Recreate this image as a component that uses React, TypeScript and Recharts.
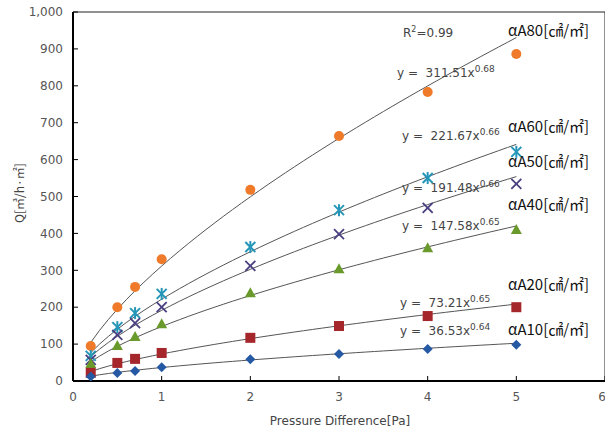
import { ComposedChart, Scatter, XAxis, YAxis, ReferenceArea } from "recharts";

// measured points (x = pressure difference, y = Q)
const pressure = [0.2, 0.5, 0.7, 1, 2, 3, 4, 5];
const qA80 = [95, 200, 255, 330, 518, 664, 783, 886];
const qA60 = [68, 146, 184, 236, 363, 463, 550, 621];
const qA50 = [57, 125, 157, 200, 312, 398, 469, 534];
const qA40 = [46, 95, 119, 154, 238, 303, 360, 409];
const qA20 = [22, 49, 60, 76, 117, 149, 176, 200];
const qA10 = [12, 22, 27, 37, 59, 73, 87, 98];

// power trendlines y = a * x^b, as printed on the chart
const fitCoef = [311.51, 221.67, 191.48, 147.58, 73.21, 36.53];
const fitExp = [0.68, 0.66, 0.66, 0.65, 0.65, 0.64];
const seriesNames = ["αA80", "αA60", "αA50", "αA40", "αA20", "αA10"];

const xTicks = [0, 1, 2, 3, 4, 5, 6];
const yTicks = [0, 100, 200, 300, 400, 500, 600, 700, 800, 900, 1000];

const toPoints = (ys: number[]) => pressure.map((x, i) => ({ x, y: ys[i] }));

const fitX: number[] = [];
for (let i = 0; i <= 48; i++) fitX.push(0.2 + i * 0.1);
const fitLine = (k: number) => fitX.map((x) => ({ x, y: fitCoef[k] * Math.pow(x, fitExp[k]) }));

const Circle = (p: any) => <circle cx={p.cx} cy={p.cy} r={5} fill="#EE7A2A" />;
const Asterisk = (p: any) => (
  <g stroke="#2596B8" strokeWidth={2}>
    <line x1={p.cx - 5} y1={p.cy - 5} x2={p.cx + 5} y2={p.cy + 5} />
    <line x1={p.cx - 5} y1={p.cy + 5} x2={p.cx + 5} y2={p.cy - 5} />
    <line x1={p.cx} y1={p.cy - 6} x2={p.cx} y2={p.cy + 6} />
  </g>
);
const Cross = (p: any) => (
  <g stroke="#4A3F80" strokeWidth={1.8}>
    <line x1={p.cx - 5} y1={p.cy - 5} x2={p.cx + 5} y2={p.cy + 5} />
    <line x1={p.cx - 5} y1={p.cy + 5} x2={p.cx + 5} y2={p.cy - 5} />
  </g>
);
const Triangle = (p: any) => (
  <polygon points={`${p.cx},${p.cy - 6} ${p.cx + 5.5},${p.cy + 4} ${p.cx - 5.5},${p.cy + 4}`} fill="#6A9A2C" />
);
const Square = (p: any) => <rect x={p.cx - 5} y={p.cy - 5} width={10} height={10} fill="#A5262B" />;
const Diamond = (p: any) => (
  <polygon points={`${p.cx},${p.cy - 5} ${p.cx + 5},${p.cy} ${p.cx},${p.cy + 5} ${p.cx - 5},${p.cy}`} fill="#2559A3" />
);
const shapes = [Circle, Asterisk, Cross, Triangle, Square, Diamond];
const values = [qA80, qA60, qA50, qA40, qA20, qA10];

const labelTop = [29, 125, 160, 203, 283, 328];
const eqTop = [72, 135, 187, 225, 302, 330];
const eqLeft = [397, 402, 402, 402, 400, 400];

const font = "'DejaVu Sans', sans-serif";

export default function App() {
  return (
    <div style={{ position: "absolute", left: 0, top: 0, width: 605, height: 431, background: "#fff" }}>
      <ComposedChart width={605} height={431} margin={{ top: 12, right: 0, bottom: 0, left: 0 }}>
        <XAxis
          type="number"
          dataKey="x"
          domain={[0, 6]}
          ticks={xTicks}
          height={50}
          tickSize={-5}
          tickMargin={16}
          axisLine={{ stroke: "#000", strokeWidth: 2 }}
          tickLine={{ stroke: "#000" }}
          tick={{ fill: "#555", fontSize: 12, fontFamily: font }}
          allowDataOverflow
        />
        <YAxis
          type="number"
          dataKey="y"
          domain={[0, 1000]}
          ticks={yTicks}
          width={73}
          tickSize={-5}
          tickMargin={15}
          axisLine={{ stroke: "#000", strokeWidth: 2 }}
          tickLine={{ stroke: "#000" }}
          tick={{ fill: "#555", fontSize: 12, fontFamily: font }}
          tickFormatter={(v: number) => v.toLocaleString("en-US")}
          allowDataOverflow
        />
        <ReferenceArea x1={0} x2={6} y1={0} y2={1000} fill="none" stroke="#222" strokeWidth={1} />
        {values.map((_, k) => (
          <Scatter
            key={"fit" + k}
            data={fitLine(k)}
            line={{ stroke: "#555", strokeWidth: 1 }}
            lineType="joint"
            shape={() => <g />}
            isAnimationActive={false}
          />
        ))}
        {values.map((ys, k) => (
          <Scatter key={seriesNames[k]} data={toPoints(ys)} shape={shapes[k]} isAnimationActive={false} />
        ))}
      </ComposedChart>

      <div style={{ position: "absolute", left: 0, top: 0, width: 605, height: 431, pointerEvents: "none", fontFamily: font }}>
        <div
          style={{
            position: "absolute",
            left: 18,
            top: 193,
            transform: "translate(-50%, -50%) rotate(-90deg)",
            fontSize: 12,
            color: "#444",
            whiteSpace: "nowrap",
            fontFamily: "'Noto Sans CJK KR', sans-serif",
          }}
        >
          Q[㎥/h·㎡]
        </div>
        <div style={{ position: "absolute", left: 340, top: 421, transform: "translate(-50%, -50%)", fontSize: 12, color: "#444", whiteSpace: "nowrap" }}>
          Pressure Difference[Pa]
        </div>
        <div style={{ position: "absolute", left: 403, top: 32, transform: "translateY(-50%)", fontSize: 12, color: "#444" }}>
          R<sup style={{ fontSize: 8 }}>2</sup>=0.99
        </div>
        {seriesNames.map((name, k) => (
          <div
            key={name}
            style={{
              position: "absolute",
              left: 508,
              top: labelTop[k],
              transform: "translateY(-50%)",
              fontSize: 15,
              color: "#111",
              whiteSpace: "nowrap",
              fontFamily: "'Noto Sans CJK KR', sans-serif",
            }}
          >
            {name}[㎠/㎡]
          </div>
        ))}
        {seriesNames.map((name, k) => (
          <div
            key={"eq" + name}
            style={{
              position: "absolute",
              left: eqLeft[k],
              top: eqTop[k],
              transform: "translateY(-50%)",
              fontSize: 12,
              color: "#444",
              whiteSpace: "nowrap",
            }}
          >
            y =&nbsp; {fitCoef[k].toFixed(2)}x<sup style={{ fontSize: 9 }}>{fitExp[k].toFixed(2)}</sup>
          </div>
        ))}
      </div>
    </div>
  );
}
